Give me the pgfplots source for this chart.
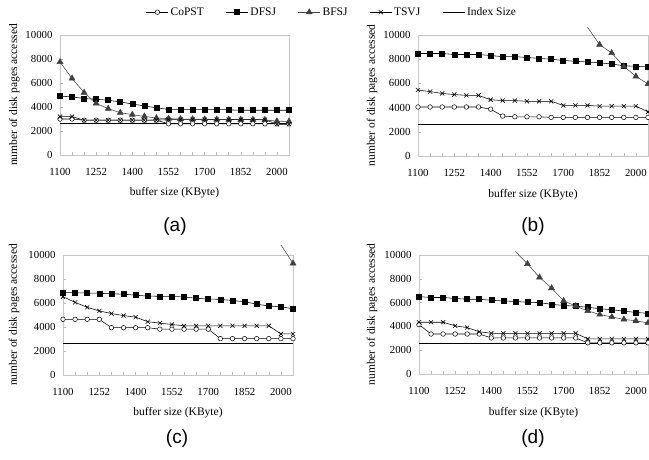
\documentclass[border=0pt]{standalone}
\usepackage{fontspec}
\setmainfont{Liberation Serif}
\newfontfamily\arial{Liberation Sans}
\usepackage{pgfplots}
\pgfplotsset{compat=1.18}
\pgfplotsset{
  panel/.style={
    scale only axis, clip=false,
    xmin=0, xmax=19, ymin=0, ymax=10000,
    xtick={0,...,19},
    xticklabels={1100,,,1252,,,1400,,,1552,,,1700,,,1852,,,2000,},
    ytick={0,2000,4000,6000,8000,10000},
    scaled y ticks=false,
    /pgf/number format/.cd, fixed, precision=0, 1000 sep={}, assume math mode=true, /pgfplots/.cd,
    tick align=inside, tick pos=left, major tick length=3pt,
    axis line style={draw=gray!45, line width=0.6pt},
    tick style={gray!55, line width=0.5pt},
    ticklabel style={font=\fontsize{10.8}{12}\selectfont},
    xticklabel style={yshift=-9.5pt},
    yticklabel style={xshift=-4pt},
    label style={font=\fontsize{11.5}{13}\selectfont},
    xlabel={buffer size (KByte)},
    ylabel={number of disk pages accessed},
  },
  copst/.style={black, line width=0.55pt, mark=*, mark size=2.3pt, mark options={fill=white, draw=black, line width=0.5pt}},
  dfsj/.style={black, line width=0.55pt, mark=square*, mark size=2.5pt, mark options={fill=black}},
  bfsj/.style={black!75, line width=0.55pt, mark=triangle*, mark size=3.4pt, mark options={fill=black!75, draw=black!75}},
  bfsjline/.style={black!75, line width=0.55pt, no marks, forget plot},
  tsvj/.style={black, line width=0.55pt, mark=x, mark size=2.9pt, mark options={line width=0.6pt}},
  idxs/.style={black, line width=0.85pt, no marks},
}
\begin{document}
\begin{tikzpicture}[x=1pt,y=1pt]
\useasboundingbox (0,0) rectangle (649,460);

% ---------------- (a)
\begin{axis}[panel, at={(60pt,305pt)}, anchor=south west, width=229pt, height=120pt,
  xlabel style={at={(axis description cs:0.5,-0.317)}, anchor=center},
  ylabel style={at={(axis description cs:-0.2,0.5)}, anchor=center},
  legend columns=5,
  legend style={draw=none, fill=none, at={(axis description cs:1.188,1.19)}, anchor=center,
    font=\fontsize{11.5}{13}\selectfont,
    /tikz/every even column/.append style={column sep=20pt}},
  legend image code/.code={\draw[mark repeat=2,mark phase=2,#1] plot coordinates {(0pt,0pt) (11pt,0pt) (22pt,0pt)};},
]
\addplot[copst] coordinates {(0,3000)(1,3000)(2,2900)(3,2900)(4,2900)(5,2900)(6,2900)(7,2900)(8,2900)(9,2600)(10,2600)(11,2600)(12,2600)(13,2600)(14,2600)(15,2600)(16,2600)(17,2600)(18,2600)(19,2600)};
\addlegendentry{CoPST}
\addplot[dfsj] coordinates {(0,4900)(1,4850)(2,4700)(3,4650)(4,4560)(5,4420)(6,4250)(7,4090)(8,3930)(9,3800)(10,3800)(11,3800)(12,3800)(13,3800)(14,3760)(15,3730)(16,3730)(17,3730)(18,3730)(19,3730)};
\addlegendentry{DFSJ}
\addplot[bfsj] coordinates {(0,7750)(1,6380)(2,5200)(3,4300)(4,3860)(5,3530)(6,3360)(7,3220)(8,3080)(9,3030)(10,3000)(11,2990)(12,2980)(13,2970)(14,2960)(15,2950)(16,2940)(17,2930)(18,2820)(19,2800)};
\addlegendentry{BFSJ}
\addplot[tsvj] coordinates {(0,3200)(1,3200)(2,2900)(3,2900)(4,2900)(5,2900)(6,2900)(7,2900)(8,2900)(9,2950)(10,2950)(11,2950)(12,2950)(13,2950)(14,2950)(15,2950)(16,2950)(17,2950)(18,2560)(19,2560)};
\addlegendentry{TSVJ}
\addplot[idxs] coordinates {(0,2600)(19,2600)};
\addlegendentry{Index Size}
\end{axis}

% ---------------- (b)
\begin{axis}[panel, at={(418pt,304pt)}, anchor=south west, width=230pt, height=121pt,
  xlabel style={at={(axis description cs:0.5,-0.322)}, anchor=center},
  ylabel style={at={(axis description cs:-0.2,0.5)}, anchor=center},
]
\addplot[copst] coordinates {(0,4050)(1,4050)(2,4050)(3,4050)(4,4050)(5,4050)(6,3870)(7,3300)(8,3240)(9,3240)(10,3240)(11,3190)(12,3190)(13,3190)(14,3190)(15,3190)(16,3190)(17,3190)(18,3190)(19,3190)};
\addplot[dfsj] coordinates {(0,8470)(1,8470)(2,8470)(3,8390)(4,8390)(5,8390)(6,8300)(7,8210)(8,8210)(9,8140)(10,8070)(11,8000)(12,7900)(13,7830)(14,7770)(15,7700)(16,7600)(17,7460)(18,7410)(19,7360)};
\addplot[bfsjline] coordinates {(14,10650)(15,9200)};
\addplot[bfsj] coordinates {(15,9200)(16,8510)(17,7410)(18,6580)(19,5950)};
\addplot[tsvj] coordinates {(0,5450)(1,5320)(2,5170)(3,5080)(4,5010)(5,5010)(6,4650)(7,4580)(8,4580)(9,4520)(10,4520)(11,4520)(12,4180)(13,4180)(14,4180)(15,4120)(16,4120)(17,4120)(18,4120)(19,3650)};
\addplot[idxs] coordinates {(0,2600)(19,2600)};
\end{axis}

% ---------------- (c)
\begin{axis}[panel, at={(63pt,85pt)}, anchor=south west, width=230pt, height=120pt,
  xlabel style={at={(axis description cs:0.5,-0.317)}, anchor=center},
  ylabel style={at={(axis description cs:-0.213,0.5)}, anchor=center},
]
\addplot[copst] coordinates {(0,4640)(1,4640)(2,4640)(3,4640)(4,3940)(5,3940)(6,3940)(7,3940)(8,3820)(9,3820)(10,3820)(11,3820)(12,3820)(13,3030)(14,3030)(15,3030)(16,3030)(17,3030)(18,3030)(19,3030)};
\addplot[dfsj] coordinates {(0,6870)(1,6850)(2,6830)(3,6810)(4,6760)(5,6740)(6,6650)(7,6570)(8,6560)(9,6550)(10,6500)(11,6400)(12,6320)(13,6310)(14,6200)(15,6110)(16,5900)(17,5750)(18,5680)(19,5520)};
\addplot[bfsjline] coordinates {(18,10850)(19,9300)};
\addplot[bfsj] coordinates {(19,9300)};
\addplot[tsvj] coordinates {(0,6530)(1,6050)(2,5640)(3,5340)(4,5120)(5,4950)(6,4820)(7,4440)(8,4320)(9,4210)(10,4100)(11,4100)(12,4100)(13,4100)(14,4100)(15,4100)(16,4100)(17,4100)(18,3420)(19,3420)};
\addplot[idxs] coordinates {(0,2600)(19,2600)};
\end{axis}

% ---------------- (d)
\begin{axis}[panel, at={(419pt,86pt)}, anchor=south west, width=229pt, height=119pt,
  xlabel style={at={(axis description cs:0.5,-0.328)}, anchor=center},
  ylabel style={at={(axis description cs:-0.205,0.5)}, anchor=center},
]
\addplot[copst] coordinates {(0,4150)(1,3360)(2,3360)(3,3360)(4,3360)(5,3360)(6,3030)(7,3030)(8,3030)(9,3030)(10,3030)(11,3030)(12,3030)(13,3030)(14,2620)(15,2620)(16,2620)(17,2620)(18,2620)(19,2620)};
\addplot[dfsj] coordinates {(0,6500)(1,6430)(2,6430)(3,6350)(4,6280)(5,6280)(6,6200)(7,6130)(8,6100)(9,6030)(10,6000)(11,5850)(12,5760)(13,5700)(14,5610)(15,5480)(16,5400)(17,5280)(18,5170)(19,5100)};
\addplot[bfsjline] coordinates {(8,10300)(9,9250)};
\addplot[bfsj] coordinates {(9,9250)(10,8120)(11,7220)(12,6150)(13,5710)(14,5300)(15,5000)(16,4790)(17,4590)(18,4470)(19,4290)};
\addplot[tsvj] coordinates {(0,4350)(1,4350)(2,4350)(3,4050)(4,3900)(5,3550)(6,3420)(7,3420)(8,3420)(9,3420)(10,3420)(11,3420)(12,3420)(13,3420)(14,2950)(15,2950)(16,2950)(17,2950)(18,2950)(19,2950)};
\addplot[idxs] coordinates {(0,2600)(19,2600)};
\end{axis}

\node[font=\arial\fontsize{19}{21}\selectfont] at (175,233.5) {(a)};
\node[font=\arial\fontsize{19}{21}\selectfont] at (533,233.5) {(b)};
\node[font=\arial\fontsize{19}{21}\selectfont] at (177,21.5) {(c)};
\node[font=\arial\fontsize{19}{21}\selectfont] at (533,21.5) {(d)};
\end{tikzpicture}
\end{document}
